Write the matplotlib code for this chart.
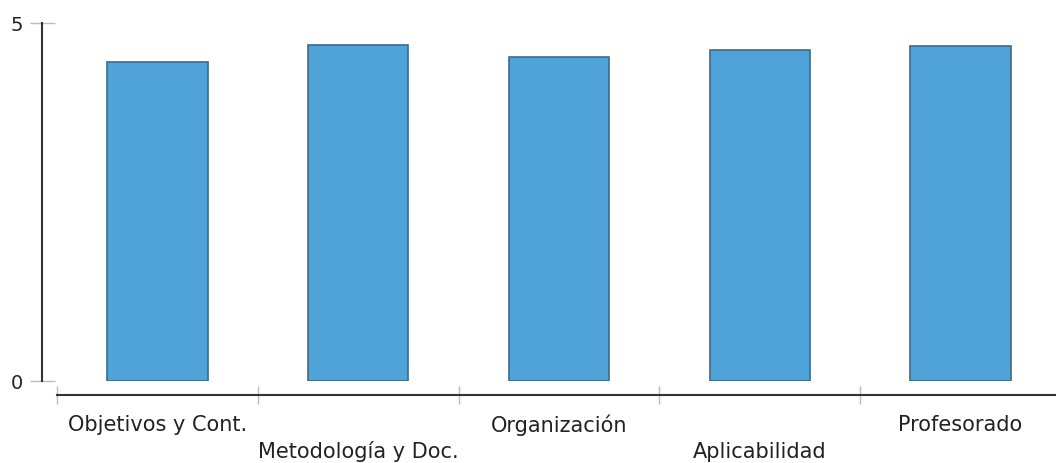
import matplotlib
matplotlib.use("Agg")
import matplotlib.pyplot as plt
from matplotlib.transforms import blended_transform_factory

categories = ["Objetivos y Cont.", "Metodología y Doc.", "Organización", "Aplicabilidad", "Profesorado"]
values = [4.46, 4.69, 4.53, 4.62, 4.68]
yticks = [0, 5]

W, H = 1056, 464
PT = 0.72  # points per pixel at 100 dpi
fig = plt.figure(figsize=(W / 100, H / 100), dpi=100)
plt.rcParams['font.family'] = ['DejaVu Sans']

left_px, right_px = 57, 1061
top_px, zero_px = 24, 382
ax = fig.add_axes([left_px / W, (H - zero_px) / H, (right_px - left_px) / W, (zero_px - top_px) / H])

x = list(range(len(categories)))
ax.bar(x, values, width=0.5, color="#4FA3D9", edgecolor="#3D6A88", linewidth=1.2, zorder=2)
ax.set_xlim(-0.5, len(categories) - 0.5)
ax.set_ylim(0, 5)

for s in ["top", "right"]:
    ax.spines[s].set_visible(False)
ax.spines["left"].set_position(("outward", 15 * PT))
ax.spines["bottom"].set_position(("outward", 14 * PT))
for s in ["left", "bottom"]:
    ax.spines[s].set_color("#333333")
    ax.spines[s].set_linewidth(1.5)

ax.set_yticks(yticks)
ax.set_yticklabels([str(v) for v in yticks], fontsize=14, color="#222222")
ax.tick_params(axis="y", direction="inout", length=25 * PT, width=1, color="#BBBBBB", pad=7 * PT)

ax.set_xticks([i - 0.5 for i in x])
ax.set_xticklabels([])
ax.tick_params(axis="x", direction="inout", length=18 * PT, width=1, color="#BBBBBB")

trans = blended_transform_factory(ax.transData, fig.transFigure)
for i, name in enumerate(categories):
    ypx = 425 if i % 2 == 0 else 452
    ax.text(i, (H - ypx) / H, name, transform=trans, ha="center", va="center",
            fontsize=15, color="#222222")

fig.savefig("out.png", dpi=100)
